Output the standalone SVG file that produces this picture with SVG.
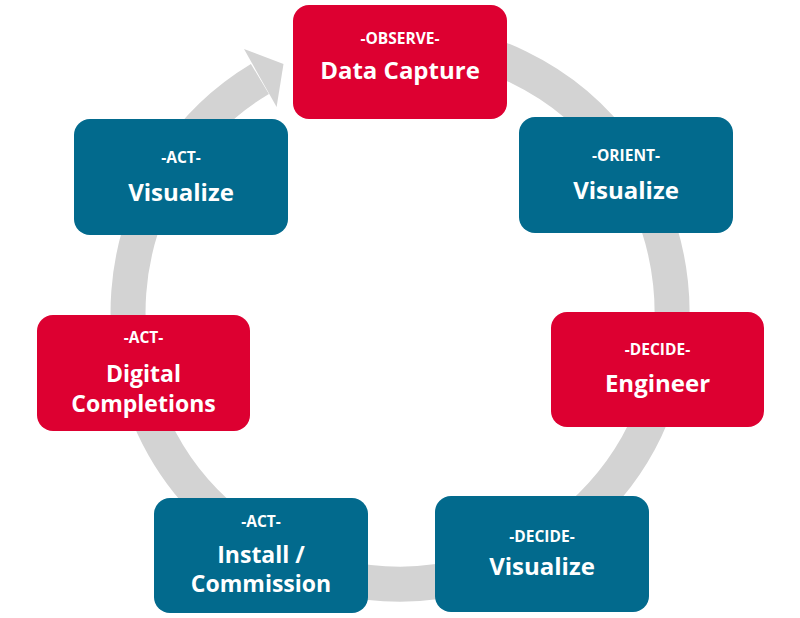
<svg xmlns="http://www.w3.org/2000/svg" width="800" height="618" viewBox="0 0 800 618">
<style>
.ring{fill:none;stroke:#d3d3d3;stroke-width:35}
.head{fill:#d3d3d3}
.red{fill:#dd0031}
.blue{fill:#026a8d}
.sm{font-family:"Open Sans","Noto Sans",sans-serif;font-weight:700;font-size:15.5px;fill:#fff;text-anchor:middle}
.lg{font-family:"Open Sans","Noto Sans",sans-serif;font-weight:700;font-size:24px;fill:#fff;text-anchor:middle}
.lg2{font-family:"Open Sans","Noto Sans",sans-serif;font-weight:700;font-size:23px;fill:#fff;text-anchor:middle}
</style>
<rect width="800" height="618" fill="#fff"/>
<g id="connectors">
<path class="ring" d="M 400 40 A 272 272 0 1 1 259.9 78.9"/>
<polygon class="head" points="244,49 283.5,64 276.6,107"/>
</g>
<g id="observe">
<rect class="red" x="293" y="5" width="214" height="114" rx="16"/>
<text class="sm" x="400" y="44">-OBSERVE-</text>
<text class="lg" x="400" y="79">Data Capture</text>
</g>
<g id="orient">
<rect class="blue" x="519" y="117" width="214" height="116" rx="16"/>
<text class="sm" x="626" y="161">-ORIENT-</text>
<text class="lg" x="626" y="199">Visualize</text>
</g>
<g id="decide-engineer">
<rect class="red" x="551" y="312" width="213" height="115" rx="16"/>
<text class="sm" x="657.5" y="355">-DECIDE-</text>
<text class="lg" x="657.5" y="392">Engineer</text>
</g>
<g id="decide-visualize">
<rect class="blue" x="435" y="496" width="214" height="116" rx="16"/>
<text class="sm" x="542" y="542">-DECIDE-</text>
<text class="lg" x="542" y="575">Visualize</text>
</g>
<g id="act-install">
<rect class="blue" x="154" y="498" width="214" height="115" rx="16"/>
<text class="sm" x="261" y="527">-ACT-</text>
<text class="lg2" x="261" y="563">Install /</text>
<text class="lg2" x="261" y="592">Commission</text>
</g>
<g id="act-digital">
<rect class="red" x="37" y="315" width="213" height="116" rx="16"/>
<text class="sm" x="143.5" y="343">-ACT-</text>
<text class="lg2" x="143.5" y="382">Digital</text>
<text class="lg2" x="143.5" y="412">Completions</text>
</g>
<g id="act-visualize">
<rect class="blue" x="74" y="119" width="214" height="116" rx="16"/>
<text class="sm" x="181" y="163">-ACT-</text>
<text class="lg" x="181" y="201">Visualize</text>
</g>
</svg>
